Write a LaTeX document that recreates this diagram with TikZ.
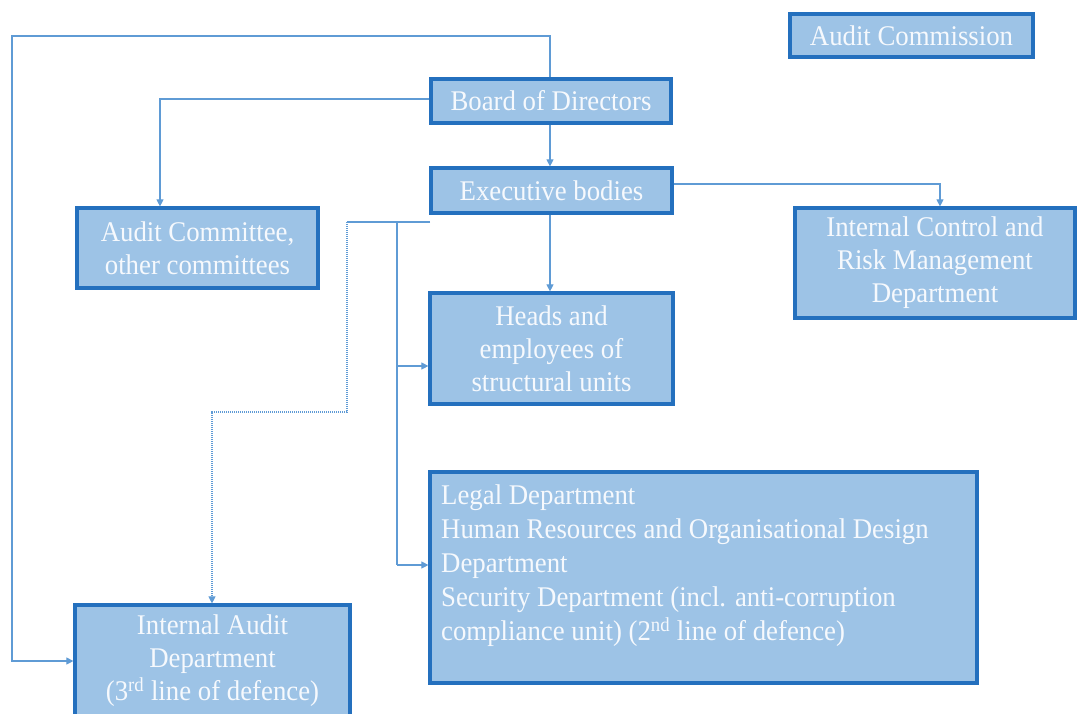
\documentclass[tikz,border=0pt]{standalone}
\usepackage{fontspec}
\setmainfont[FakeStretch=0.94]{Liberation Serif}
\usetikzlibrary{arrows.meta}
\definecolor{boxfill}{RGB}{157,195,230}
\definecolor{boxline}{RGB}{36,112,190}
\definecolor{conn}{RGB}{95,155,213}
\definecolor{boxtext}{RGB}{246,249,253}
\tikzset{
  orgbox/.style={draw=boxline, line width=3.2pt, fill=boxfill, text=boxtext,
    font=\fontsize{28.5}{33}\selectfont, align=center, inner sep=0pt},
  link/.style={draw=conn, line width=1.1pt, -{Triangle[length=7pt,width=7pt]}},
  dotlink/.style={link, dash pattern=on 1.2pt off 0.8pt},
}
\begin{document}
\begin{tikzpicture}[x=1pt,y=-1pt]
\path[use as bounding box] (0,0) rectangle (1078,713);
\clip (0,0) rectangle (1078,713);

\node[orgbox, minimum width=243, minimum height=43] (comm) at (911.5,35.5) {Audit Commission};
\node[orgbox, minimum width=240, minimum height=44] (board) at (551,101) {Board of Directors};
\node[orgbox, minimum width=241, minimum height=45] (exec) at (551.5,190.5) {Executive bodies};
\node[orgbox, minimum width=241, minimum height=80] (acomm) at (197.5,248) {Audit Committee,\\other committees};
\node[orgbox, minimum width=280, minimum height=110] (icrm) at (935,263) {Internal Control and\\Risk Management\\Department};
\node[orgbox, minimum width=243, minimum height=111] (heads) at (551.5,348.5) {Heads and\\employees of\\structural units};
\node[orgbox, minimum width=547, minimum height=211] (legal) at (703.5,577.5) {};
\node[text=boxtext, font=\fontsize{28.5}{34}\selectfont, align=left, inner sep=0pt, anchor=north west] (legaltext) at (441,485)
  {Legal Department\\Human Resources and Organisational Design\\Department\\Security Department (incl. anti-corruption\\compliance unit) (2\textsuperscript{nd} line of defence)};
\node[orgbox, minimum width=275, minimum height=112] (iad) at (212.5,661) {Internal Audit\\Department\\(3\textsuperscript{rd} line of defence)};

% connectors
\coordinate (loopTop) at (550,36);
\draw[link] (board.north -| loopTop) -- (loopTop) -- (12,36) -- (12,661) -- (iad.west);
\draw[link] (board.west |- 0,99) -- (160,99) -- (acomm.north -| 160,0);
\draw[link] (board.south -| loopTop) -- (exec.north -| loopTop);
\draw[link] (exec.east |- 0,184) -- (940,184) -- (icrm.north -| 940,0);
\draw[link] (exec.south -| loopTop) -- (heads.north -| loopTop);

\coordinate (fork) at (430,222);
\coordinate (forkL) at (347,222);
\draw[draw=conn, line width=1.1pt] (fork) -- (forkL);
\draw[dotlink] (forkL) -- (347,412) -- (212,412) -- (iad.north -| 212,0);
\coordinate (trunk) at (397,222);
\draw[draw=conn, line width=1.1pt] (trunk) -- (397,565);
\draw[link] (397,366) -- (heads.west |- 0,366);
\draw[link] (397,565) -- (legal.west |- 0,565);
\end{tikzpicture}
\end{document}
